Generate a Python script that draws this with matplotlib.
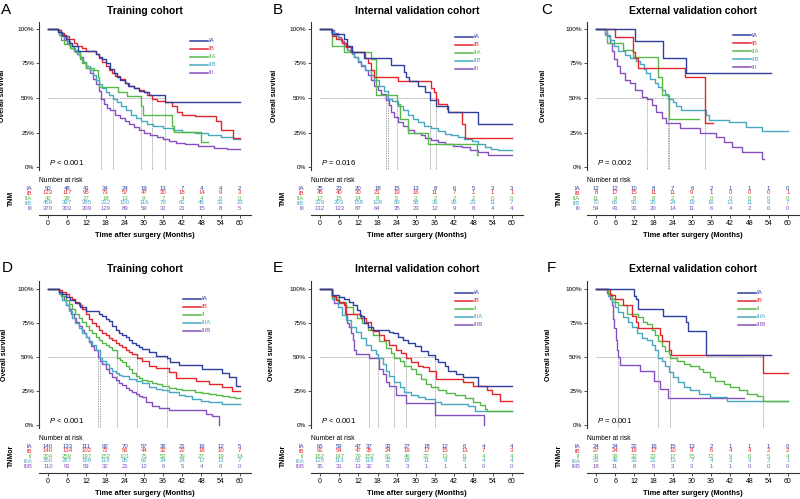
import matplotlib
matplotlib.use('Agg')
import matplotlib.pyplot as plt

plt.rcParams['font.family'] = ['Liberation Sans', 'DejaVu Sans']
plt.rcParams['mathtext.fontset'] = 'custom'
plt.rcParams['mathtext.it'] = 'Liberation Sans:italic'
plt.rcParams['mathtext.rm'] = 'Liberation Sans'

months = [0, 6, 12, 18, 24, 30, 36, 42, 48, 54, 60]
pct_ticks = [0, 0.25, 0.5, 0.75, 1.0]
pct_labels = ['0%', '25%', '50%', '75%', '100%']

groups_tnm = ['IA', 'IB', 'IIA', 'IIB', 'III']
groups_tnmor = ['IA', 'IB', 'II', 'IIIA', 'IIIB']

# ---------------- Panel A: TNM, training ----------------
A_IA_t = [0,3,4.5,5.5,6.5,7.5,9.5,15,16,17,18,19.5,20.5,21.5,22.5,24,25,27,28.5,30,31.5,36.7,60]
A_IA_s = [1,0.98,0.96,0.93,0.90,0.88,0.84,0.82,0.80,0.78,0.75,0.71,0.68,0.65,0.63,0.61,0.59,0.57,0.55,0.54,0.52,0.47,0.47]
A_IB_t = [0,3,4,5,6.5,8,9,10.5,12,15,16,17,18,19,20,21,22.5,24,25.5,27,28.5,30,31,32.4,34,36.7,38.8,40.3,42,46,52.7,54.2,57.8,60]
A_IB_s = [1,0.99,0.97,0.95,0.93,0.90,0.88,0.86,0.84,0.82,0.79,0.76,0.73,0.70,0.68,0.66,0.64,0.61,0.59,0.57,0.56,0.54,0.52,0.49,0.48,0.47,0.44,0.40,0.38,0.37,0.33,0.27,0.21,0.21]
A_IIA_t = [0,3.5,4.2,5,6.8,8.4,9.9,10.5,12,14.5,15.6,16.1,21.8,24.8,29,29.7,38.8,39.3,48,50.1]
A_IIA_s = [1,0.96,0.92,0.89,0.86,0.83,0.78,0.75,0.72,0.70,0.65,0.58,0.545,0.513,0.44,0.38,0.30,0.255,0.18,0.18]
A_IIB_t = [0,3,4,5,6,7,8,9,10,11,12,13,14,15,16,17,18,19,20.2,21.5,23,24.5,26,27.5,29,31,33,36,39,42,46,50,54,58,60]
A_IIB_s = [1,0.99,0.97,0.94,0.91,0.88,0.85,0.82,0.79,0.76,0.73,0.70,0.67,0.63,0.60,0.57,0.545,0.52,0.495,0.47,0.44,0.41,0.38,0.355,0.33,0.31,0.295,0.28,0.265,0.255,0.245,0.23,0.215,0.205,0.205]
A_III_t = [0,3,4,5,6,7,8,9,10,11,12,13,14,15,16,16.6,17.5,18.5,19.5,21,22.5,24,25.5,27,28.5,30,32,34,36,38,40,43,47,52,56,60]
A_III_s = [1,0.98,0.95,0.92,0.89,0.86,0.84,0.82,0.80,0.76,0.72,0.68,0.64,0.60,0.55,0.495,0.46,0.43,0.41,0.38,0.355,0.335,0.31,0.29,0.27,0.25,0.235,0.22,0.20,0.19,0.175,0.165,0.155,0.14,0.13,0.13]
A_risk_IA = [50,48,41,34,24,19,13,7,4,4,2]
A_risk_IB = [123,117,95,73,57,47,30,18,14,9,3]
A_risk_IIA = [42,39,27,18,13,9,7,4,4,0,0]
A_risk_IIB = [459,397,285,212,150,116,79,61,45,33,23]
A_risk_III = [370,303,209,129,89,59,31,21,15,8,5]

# ---------------- Panel B: TNM, internal validation ----------------
B_IA_t = [0,3.9,7.5,8.6,10,13.8,22.2,26.4,27,27.8,30.6,32.7,34.3,36.4,40,49.5,60]
B_IA_s = [1,0.965,0.925,0.875,0.835,0.787,0.74,0.69,0.65,0.62,0.586,0.545,0.484,0.44,0.40,0.315,0.315]
B_IB_t = [0,3.9,5,7,8,9.7,14,15,16,17,24.3,34.8,35.6,36.4,37,39.6,40,44.3,45.3,60]
B_IB_s = [1,0.95,0.93,0.90,0.87,0.83,0.79,0.75,0.70,0.655,0.62,0.57,0.54,0.49,0.46,0.42,0.40,0.31,0.21,0.21]
B_IIA_t = [0,3.9,7.6,15.9,17.5,24.1,25,27.5,33.8,49,49.5]
B_IIA_s = [1,0.88,0.83,0.78,0.52,0.46,0.35,0.25,0.17,0.085,0.085]
B_IIB_t = [0,3.4,4.4,5.5,7,8.6,10,10.7,12,12.8,14,15.9,17,18.6,20,21.2,22.5,24.3,26,27.5,29,30.6,32.5,34.8,37,39,41,43.2,45,47.4,49.5,51.6,53.5,55.8,60]
B_IIB_s = [1,0.98,0.96,0.93,0.90,0.85,0.82,0.80,0.77,0.74,0.70,0.665,0.63,0.59,0.55,0.495,0.48,0.44,0.41,0.375,0.35,0.327,0.30,0.28,0.26,0.24,0.23,0.22,0.205,0.19,0.17,0.145,0.13,0.12,0.12]
B_III_t = [0,3.4,4.4,5.5,6.5,7.5,8.6,9.5,10.7,12,12.8,14,14.9,16,17,18,19.1,20.7,21.5,22.2,23.2,24.3,26,27.5,29.5,31.7,33,34.8,37,39,41.5,44.3,47,49.5,52.7,60]
B_III_s = [1,0.99,0.97,0.94,0.91,0.88,0.85,0.83,0.80,0.76,0.73,0.70,0.665,0.63,0.59,0.56,0.53,0.485,0.45,0.40,0.36,0.327,0.30,0.266,0.25,0.23,0.21,0.194,0.18,0.17,0.155,0.145,0.125,0.11,0.09,0.09]
B_risk_IA = [25,23,20,18,15,13,8,6,5,3,3]
B_risk_IB = [45,40,30,21,19,16,11,7,1,1,1]
B_risk_IIA = [17,15,14,8,5,3,2,2,2,0,0]
B_risk_IIB = [229,203,158,108,80,58,36,26,23,11,7]
B_risk_III = [132,123,87,64,35,23,12,9,8,4,4]

# ---------------- Panel C: TNM, external validation ----------------
C_IA_t = [0,12.2,21,28.2,54.6]
C_IA_s = [1,0.91,0.79,0.68,0.68]
C_IB_t = [0,6,11.7,12.3,13.2,27.7,34.2,36.7]
C_IB_s = [1,0.94,0.83,0.79,0.72,0.65,0.32,0.32]
C_IIA_t = [0,3.6,8.6,11.7,19.4,20.6,22.9,32.2]
C_IIA_s = [1,0.90,0.85,0.80,0.65,0.52,0.35,0.35]
C_IIB_t = [0,2.9,4.4,5.5,7,9,10.7,12.5,13.8,15,15.8,17,18.4,19.5,20.5,21.5,22.5,24,25.1,26.7,34.4,35.5,41.7,46.8,52,60]
C_IIB_s = [1,0.96,0.92,0.88,0.84,0.81,0.79,0.765,0.744,0.71,0.68,0.64,0.61,0.58,0.56,0.53,0.495,0.47,0.44,0.41,0.378,0.34,0.324,0.29,0.26,0.26]
C_III_t = [0,2.9,3.6,4.4,5,5.7,6.5,7.5,9.1,10.7,12.2,14.3,16,17.4,18.9,20.5,22,26.2,32.4,37.5,40.1,42.7,45.8,52,52.5]
C_III_s = [1,0.97,0.95,0.90,0.84,0.78,0.73,0.68,0.63,0.61,0.56,0.51,0.49,0.45,0.40,0.354,0.317,0.28,0.25,0.22,0.18,0.146,0.11,0.06,0.06]
C_risk_IA = [12,12,10,8,7,6,2,1,1,1,0]
C_risk_IB = [8,17,15,11,11,9,1,0,0,0,1]
C_risk_IIA = [11,9,8,8,2,2,0,0,0,0,0]
C_risk_IIB = [70,65,50,35,24,19,16,13,11,9,7]
C_risk_III = [54,41,31,20,14,11,6,4,2,0,0]

# ---------------- Panel D: TNMor, training ----------------
D_IA_t = [0,3.3,4.5,5.5,7,8.5,10,11.8,16,17,18,19,20,21.2,22.2,23.3,24.3,25.3,26.4,27.4,28.5,29.5,31.6,33.7,37.3,38.3,41,48.3,54.5,56.5,58.7,60]
D_IA_s = [1,0.98,0.96,0.94,0.92,0.90,0.87,0.84,0.82,0.80,0.78,0.765,0.73,0.70,0.68,0.66,0.645,0.625,0.605,0.587,0.57,0.56,0.536,0.51,0.49,0.46,0.44,0.41,0.38,0.35,0.29,0.29]
D_IB_t = [0,3.3,4.5,5.5,6.5,7.6,8.6,9.7,10.7,11.8,12.8,13.9,15,16,17,18,19,20.1,21.2,22.2,23.2,24.3,25.3,26.4,28,29.5,31.6,33.7,37.9,39.9,46.2,50.4,54.5,57.7,60]
D_IB_s = [1,0.99,0.98,0.96,0.945,0.93,0.905,0.88,0.85,0.816,0.78,0.75,0.725,0.70,0.68,0.66,0.64,0.625,0.605,0.587,0.57,0.55,0.535,0.52,0.49,0.47,0.434,0.42,0.39,0.344,0.32,0.30,0.28,0.25,0.25]
D_II_t = [0,3.3,4.5,5.5,6.5,7.6,8.6,9.7,10.7,11.8,12.8,13.9,15,16,17,18,19,20.1,21.7,22.5,23.3,24.3,25.3,26.4,27.4,28.5,29.5,31,32.6,34,35.8,37.8,39.9,42,44.1,46,48.3,50.4,52.5,54.5,56.6,58.5,60]
D_II_s = [1,0.98,0.95,0.918,0.89,0.855,0.82,0.79,0.76,0.727,0.70,0.676,0.65,0.625,0.605,0.587,0.57,0.55,0.495,0.48,0.46,0.435,0.41,0.385,0.357,0.345,0.33,0.32,0.31,0.30,0.285,0.275,0.268,0.26,0.255,0.245,0.235,0.226,0.217,0.21,0.204,0.196,0.196]
D_IIIA_t = [0,3.3,4.5,5.5,6.5,7.6,8.6,9.7,10.7,11.8,12.8,13.9,15,16.2,17,18,19.1,20.1,21.2,22.2,23.3,25.3,27.4,29.5,31.6,33.7,35.8,37.9,41,43,45.2,48,50.4,54.5,60]
D_IIIA_s = [1,0.96,0.92,0.88,0.835,0.79,0.75,0.714,0.68,0.65,0.62,0.587,0.55,0.495,0.47,0.445,0.42,0.40,0.38,0.367,0.357,0.337,0.327,0.306,0.28,0.268,0.255,0.242,0.224,0.21,0.19,0.175,0.166,0.153,0.153]
D_IIIB_t = [0,3.3,4.2,5,5.8,6.6,7.3,8.1,8.9,9.7,10.5,11.3,12,12.8,13.6,14.4,15.6,16.3,17,18,19.1,20.1,21.2,22.2,23.3,24.3,25.3,26.4,27.4,28.5,29.5,30.6,32.6,34.7,37.9,49.3,51.4,53.5]
D_IIIB_s = [1,0.97,0.95,0.918,0.885,0.855,0.82,0.79,0.76,0.727,0.70,0.676,0.645,0.612,0.58,0.55,0.497,0.47,0.446,0.415,0.383,0.355,0.33,0.31,0.293,0.275,0.255,0.24,0.23,0.215,0.204,0.166,0.14,0.128,0.107,0.082,0.064,0.0]
D_risk_IA = [140,133,111,92,70,57,36,21,16,12,5]
D_risk_IB = [140,134,102,72,56,44,32,22,18,10,7]
D_risk_II = [304,259,197,152,101,75,52,39,27,19,14]
D_risk_IIIA = [350,287,188,118,85,62,34,24,17,13,7]
D_risk_IIIB = [110,91,59,32,21,12,6,5,4,0,0]

# ---------------- Panel E: TNMor, internal validation ----------------
E_IA_t = [0,3.9,6,7.6,9.1,10.2,11.7,12.5,13.8,14.9,16.5,21.7,22.8,24.3,25.9,27.5,29.6,31.7,33.8,35.9,36.9,39,40.1,42.7,44.8,49.5,60]
E_IA_s = [1,0.957,0.945,0.928,0.904,0.88,0.844,0.80,0.75,0.724,0.70,0.687,0.675,0.65,0.627,0.60,0.58,0.543,0.514,0.483,0.46,0.435,0.40,0.375,0.35,0.29,0.29]
E_IB_t = [0,3.9,4.9,6,7.6,8.1,12.8,14.4,15.9,17,18.6,20.1,21.7,23.8,25.4,27,28.5,30.6,32.2,34,36.4,44.8,47.9,52.1,53.7,56.3,60]
E_IB_s = [1,0.95,0.916,0.904,0.88,0.815,0.79,0.76,0.70,0.692,0.663,0.627,0.59,0.555,0.53,0.495,0.46,0.435,0.423,0.40,0.34,0.315,0.29,0.255,0.23,0.18,0.18]
E_II_t = [0,3.9,6,8.1,10.2,11.7,13.3,14.9,16.5,18.6,20.7,22.2,23.3,24.9,26.4,28.5,30.1,31.7,33.3,34.8,36.9,39.5,42.2,45.3,47.9,50,51.6,52.1,60]
E_II_s = [1,0.94,0.904,0.868,0.82,0.784,0.748,0.70,0.663,0.615,0.567,0.531,0.495,0.47,0.435,0.41,0.375,0.34,0.30,0.28,0.255,0.235,0.22,0.195,0.17,0.147,0.115,0.103,0.103]
E_IIIA_t = [0,3.9,5.5,7,8.1,9.7,11.2,12.8,14.4,15.9,17.5,18.3,19.6,20.7,21.7,23.3,24.9,26.4,28.5,30.6,32.7,35.9,38,46.4,48.5,60]
E_IIIA_s = [1,0.928,0.868,0.81,0.77,0.724,0.687,0.64,0.59,0.555,0.52,0.495,0.447,0.40,0.363,0.315,0.28,0.243,0.22,0.207,0.19,0.17,0.154,0.14,0.10,0.10]
E_IIIB_t = [0,3.9,4.4,7.8,8.4,9.1,9.7,10.2,10.7,11.2,15.4,18.4,19.6,20.7,21.7,23.8,27,35.9,51.3]
E_IIIB_s = [1,0.94,0.90,0.82,0.75,0.72,0.675,0.627,0.555,0.52,0.49,0.41,0.375,0.315,0.29,0.22,0.16,0.075,0.0]
E_risk_IA = [65,59,47,37,32,27,18,12,6,4,4]
E_risk_IB = [61,54,47,35,24,19,17,15,13,7,3]
E_risk_II = [162,147,79,152,61,46,22,13,11,4,4]
E_risk_IIIA = [125,113,55,118,32,18,11,9,8,4,4]
E_risk_IIIB = [35,31,13,32,5,3,1,1,1,0,0]
E_risk_cols = [0, 6, 12, 15.4, 21.2, 27.3, 33.3, 39.2, 45.3, 51, 60]

# ---------------- Panel F: TNMor, external validation ----------------
F_IA_t = [0,11.9,12.5,13,13.3,21.1,28.2,28.9,34.5,54.8]
F_IA_s = [1,0.95,0.93,0.89,0.85,0.80,0.76,0.69,0.514,0.514]
F_IB_t = [0,4.4,6,8.6,11.2,12.5,13.3,20.1,20.6,23,23.4,52.1,60]
F_IB_s = [1,0.957,0.928,0.88,0.80,0.76,0.71,0.663,0.62,0.555,0.514,0.385,0.385]
F_II_t = [0,3.9,4.9,6,7,9.6,13.3,14.8,15.9,17.5,18.5,19.5,20.6,21.6,22.7,23.2,25.3,27.4,29.5,32.1,33.6,35.7,37.3,39.9,42,44.6,47.2,50.4,52.1,60]
F_II_s = [1,0.964,0.928,0.904,0.88,0.82,0.796,0.76,0.74,0.70,0.663,0.62,0.58,0.543,0.52,0.495,0.47,0.447,0.435,0.41,0.387,0.35,0.322,0.30,0.28,0.255,0.23,0.21,0.178,0.178]
F_IIIA_t = [0,3.9,4.9,6,7,8.6,10.1,11.2,12.7,14.3,15.9,17.5,18.5,19.3,20.6,21.6,22.7,24.2,25.8,27.4,29.5,32.1,35.7,41,60]
F_IIIA_s = [1,0.95,0.904,0.868,0.83,0.796,0.76,0.724,0.675,0.64,0.627,0.59,0.555,0.495,0.47,0.435,0.387,0.35,0.315,0.28,0.255,0.23,0.207,0.175,0.175]
F_IIIB_t = [0,3.6,4.4,4.9,5.4,5.7,6.3,6.7,7,7.5,13.8,18,20.1,22.4,46.2]
F_IIIB_s = [1,0.97,0.93,0.88,0.78,0.71,0.627,0.555,0.50,0.44,0.394,0.32,0.267,0.195,0.195]
F_risk_IA = [24,24,22,16,15,13,2,1,1,1,0]
F_risk_IB = [27,24,19,17,10,9,6,4,4,2,2]
F_risk_II = [43,39,32,23,17,15,12,9,6,5,4]
F_risk_IIIA = [53,46,33,21,13,7,4,3,3,2,1]
F_risk_IIIB = [18,11,8,5,3,3,1,1,0,0,0]

# ---------------- styling ----------------
colors = ['#2f3f9e', '#e3262d', '#56b848', '#46a9c1', '#8650bf']
W, H = 800, 499
fig = plt.figure(figsize=(8, 4.99), dpi=100)

XLIM = (-2.8, 63.5)
col_left = [39, 311, 587]
ax_w = 212
rows_px = [dict(km_top=22, km_bot=170, r_top=175, r_bot=215, title_y=11),
           dict(km_top=281, km_bot=428, r_top=433, r_bot=473, title_y=269)]
ylims = [(-0.0217, 1.0507), (-0.022, 1.059)]
letter_x = [[6, 278, 547], [7, 278, 551]]
leg_x = [[0.712, 0.68, 0.69], [0.68, 0.68, 0.71]]
leg_y0 = [[0.872, 0.90, 0.91], [0.878, 0.92, 0.92]]
ylab_x = [[-0.155, -0.155, -0.19], [-0.148, -0.17, -0.165]]
row_y = [0.675, 0.55, 0.425, 0.30, 0.175]
grey = '#333333'


def panel(r, c, letter, title, groups, ts, ss, risks, pval, tlabel, rcols=None):
    rp = rows_px[r]
    left = col_left[c] / W
    ax = fig.add_axes([left, 1 - rp['km_bot'] / H, ax_w / W, (rp['km_bot'] - rp['km_top']) / H])
    rax = fig.add_axes([left, 1 - rp['r_bot'] / H, ax_w / W, (rp['r_bot'] - rp['r_top']) / H])

    # median reference lines
    meds = []
    for t, s in zip(ts, ss):
        for ti, si in zip(t, s):
            if si <= 0.5:
                meds.append(ti)
                break
    if meds:
        ax.plot([0, max(meds)], [0.5, 0.5], linestyle=(0, (1, 1)), color='#8a8a8a', lw=0.6, zorder=1)
        for m in meds:
            ax.plot([m, m], [ylims[r][0], 0.5], linestyle=(0, (1, 1)), color='#8a8a8a', lw=0.6, zorder=1)

    for i in reversed(range(len(groups))):
        ax.step(ts[i], ss[i], where='post', color=colors[i], lw=1.0, zorder=3 + (5 - i))

    ax.set_xlim(*XLIM)
    ax.set_ylim(*ylims[r])
    for sp in ['top', 'right', 'bottom']:
        ax.spines[sp].set_visible(False)
    ax.spines['left'].set_color(grey)
    ax.spines['left'].set_linewidth(0.8)
    ax.set_xticks([])
    ax.set_yticks(pct_ticks)
    ax.set_yticklabels(pct_labels)
    ax.tick_params(axis='y', labelsize=4.6, length=2, width=0.6, pad=1.5, color=grey)
    ax.set_ylabel('Overall survival', fontsize=5, fontweight='bold')
    ax.yaxis.set_label_coords(ylab_x[r][c], 0.5)
    fig.text(left + ax_w / 2 / W, 1 - rp['title_y'] / H, title, fontsize=7.5, fontweight='bold',
             ha='center', va='center')
    ax.text(0.2, 0.035, pval, fontsize=5.6, ha='left', va='center')

    # legend
    dy = 8.0 / (rp['km_bot'] - rp['km_top'])
    lx = leg_x[r][c]
    for i, g in enumerate(groups):
        yy = leg_y0[r][c] - i * dy
        ax.plot([lx, lx + 0.085], [yy, yy], transform=ax.transAxes, color=colors[i], lw=1.1, clip_on=False)
        ax.text(lx + 0.087, yy, g, transform=ax.transAxes, color=colors[i], fontsize=4.4, ha='left', va='center')

    fig.text(letter_x[r][c] / W, 1 - (rp['title_y'] - 1) / H, letter, fontsize=11, ha='center', va='center')

    # risk table
    rax.set_xlim(*XLIM)
    rax.set_ylim(0, 1)
    for sp in ['top', 'right', 'left']:
        rax.spines[sp].set_visible(False)
    rax.spines['bottom'].set_color(grey)
    rax.spines['bottom'].set_linewidth(0.8)
    rax.set_xticks(months)
    rax.set_xticklabels([str(m) for m in months])
    rax.tick_params(axis='x', labelsize=5, length=2, width=0.6, pad=1.5, color=grey)
    rax.set_yticks(row_y)
    rax.set_yticklabels(groups)
    rax.tick_params(axis='y', length=0, pad=5, labelsize=4.3)
    for lab, col in zip(rax.get_yticklabels(), colors):
        lab.set_color(col)
    rax.set_ylabel(tlabel, fontsize=5, fontweight='bold')
    rax.yaxis.set_label_coords(-24 / ax_w, 0.42)
    rax.set_xlabel('Time after surgery (Months)', fontsize=5.4, fontweight='bold')
    rax.xaxis.set_label_coords(0.5, -0.42)
    rax.text(0.0, 0.875, 'Number at risk', transform=rax.transAxes, fontsize=4.8, ha='left', va='center')
    xs = rcols if rcols is not None else months
    for i, rk in enumerate(risks):
        for x, n in zip(xs, rk):
            rax.text(x, row_y[i], str(n), ha='center', va='center', color=colors[i], fontsize=4.3)


panel(0, 0, 'A', 'Training cohort', groups_tnm,
      [A_IA_t, A_IB_t, A_IIA_t, A_IIB_t, A_III_t], [A_IA_s, A_IB_s, A_IIA_s, A_IIB_s, A_III_s],
      [A_risk_IA, A_risk_IB, A_risk_IIA, A_risk_IIB, A_risk_III], r'$\mathit{P}$ < 0.001', 'TNM')
panel(0, 1, 'B', 'Internal validation cohort', groups_tnm,
      [B_IA_t, B_IB_t, B_IIA_t, B_IIB_t, B_III_t], [B_IA_s, B_IB_s, B_IIA_s, B_IIB_s, B_III_s],
      [B_risk_IA, B_risk_IB, B_risk_IIA, B_risk_IIB, B_risk_III], r'$\mathit{P}$ = 0.016', 'TNM')
panel(0, 2, 'C', 'External validation cohort', groups_tnm,
      [C_IA_t, C_IB_t, C_IIA_t, C_IIB_t, C_III_t], [C_IA_s, C_IB_s, C_IIA_s, C_IIB_s, C_III_s],
      [C_risk_IA, C_risk_IB, C_risk_IIA, C_risk_IIB, C_risk_III], r'$\mathit{P}$ = 0.002', 'TNM')
panel(1, 0, 'D', 'Training cohort', groups_tnmor,
      [D_IA_t, D_IB_t, D_II_t, D_IIIA_t, D_IIIB_t], [D_IA_s, D_IB_s, D_II_s, D_IIIA_s, D_IIIB_s],
      [D_risk_IA, D_risk_IB, D_risk_II, D_risk_IIIA, D_risk_IIIB], r'$\mathit{P}$ < 0.001', 'TNMor')
panel(1, 1, 'E', 'Internal validation cohort', groups_tnmor,
      [E_IA_t, E_IB_t, E_II_t, E_IIIA_t, E_IIIB_t], [E_IA_s, E_IB_s, E_II_s, E_IIIA_s, E_IIIB_s],
      [E_risk_IA, E_risk_IB, E_risk_II, E_risk_IIIA, E_risk_IIIB], r'$\mathit{P}$ < 0.001', 'TNMor', E_risk_cols)
panel(1, 2, 'F', 'External validation cohort', groups_tnmor,
      [F_IA_t, F_IB_t, F_II_t, F_IIIA_t, F_IIIB_t], [F_IA_s, F_IB_s, F_II_s, F_IIIA_s, F_IIIB_s],
      [F_risk_IA, F_risk_IB, F_risk_II, F_risk_IIIA, F_risk_IIIB], r'$\mathit{P}$ = 0.001', 'TNMor')

fig.savefig('out.png', dpi=100)
